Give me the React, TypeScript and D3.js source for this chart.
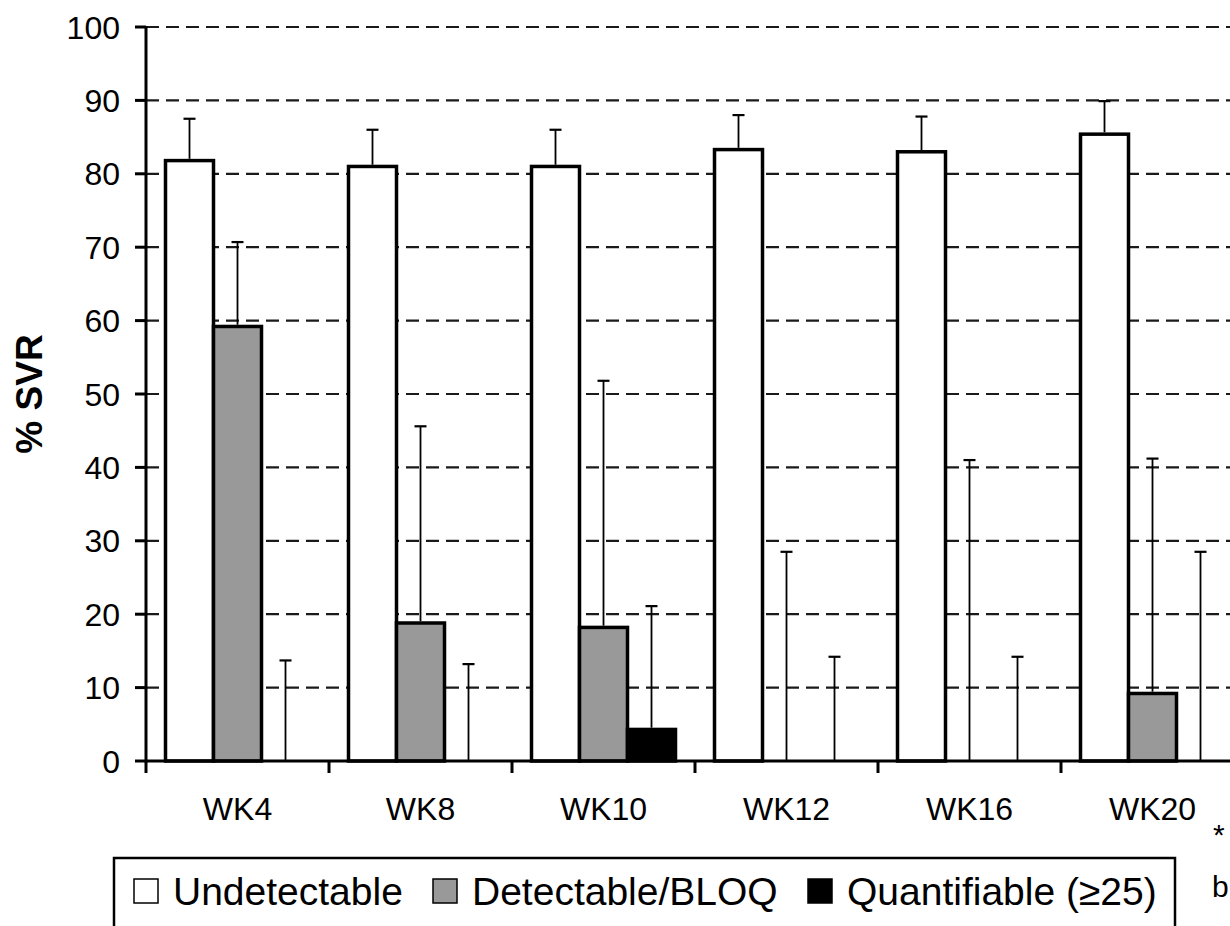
import React from 'react';
import * as d3 from 'd3';

// values (% SVR)
const categories = ['WK4', 'WK8', 'WK10', 'WK12', 'WK16', 'WK20'];
const undetectable = [81.8, 81.0, 81.0, 83.3, 83.0, 85.4];
const undetectableErr = [87.5, 86.0, 86.0, 88.0, 87.8, 89.9];
const detectable = [59.2, 18.8, 18.2, 0, 0, 9.2];
const detectableErr = [70.7, 45.6, 51.8, 28.5, 41.0, 41.2];
const quantifiable = [0, 0, 4.3, 0, 0, 0];
const quantifiableErr = [13.7, 13.2, 21.1, 14.2, 14.2, 28.5];
const yTicks = [0, 10, 20, 30, 40, 50, 60, 70, 80, 90, 100];

const series = [
  { name: 'Undetectable', values: undetectable, err: undetectableErr, fill: '#ffffff' },
  { name: 'Detectable/BLOQ', values: detectable, err: detectableErr, fill: '#999999' },
  { name: 'Quantifiable (≥25)', values: quantifiable, err: quantifiableErr, fill: '#000000' },
];

const W = 1230;
const H = 926;
const font = '"Liberation Sans", Arial, sans-serif';

export default function App() {
  const x0 = 146;
  const step = 183;
  const x = d3.scaleBand<string>()
    .domain(categories)
    .range([x0, x0 + step * categories.length]);
  const barW = 48;
  const inner = d3.scaleBand<string>()
    .domain(series.map(s => s.name))
    .range([0, barW * series.length]);
  const groupOffset = (x.bandwidth() - barW * series.length) / 2;

  const y = d3.scaleLinear().domain([0, 100]).range([761, 27]);

  // legend swatch positions
  const legendX = [134, 433, 808];

  return (
    <svg width={W} height={H} style={{ position: 'absolute', left: 0, top: 0, background: '#fff' }}
      fontFamily={font}>
      <rect x={0} y={0} width={W} height={H} fill="#fff" />

      {/* dashed gridlines */}
      {yTicks.filter(t => t > 0).map(t => (
        <line key={'g' + t} x1={x0} x2={W} y1={y(t)} y2={y(t)}
          stroke="#1a1a1a" strokeWidth={2.2} strokeDasharray="13,7" />
      ))}

      {/* bars */}
      {categories.map((c, ci) => (
        <g key={c}>
          {series.map(s => {
            const bx = (x(c) as number) + groupOffset + (inner(s.name) as number);
            const v = s.values[ci];
            return (
              <rect key={s.name} x={bx} y={y(v)} width={barW} height={y(0) - y(v)}
                fill={s.fill} stroke="#000" strokeWidth={3.5} />
            );
          })}
        </g>
      ))}

      {/* error bars */}
      {categories.map((c, ci) => (
        <g key={'e' + c}>
          {series.map(s => {
            const cx = (x(c) as number) + groupOffset + (inner(s.name) as number) + barW / 2;
            const v = s.values[ci];
            const e = s.err[ci];
            return (
              <g key={s.name} stroke="#000" strokeWidth={1.8}>
                <line x1={cx} x2={cx} y1={y(v) - (v > 0 ? 1.75 : 0)} y2={y(e)} />
                <line x1={cx - 6} x2={cx + 6} y1={y(e)} y2={y(e)} strokeWidth={2.2} />
              </g>
            );
          })}
        </g>
      ))}

      {/* y axis */}
      <line x1={x0} x2={x0} y1={y(100) - 1} y2={y(0) + 1.5} stroke="#000" strokeWidth={3} />
      {yTicks.map(t => (
        <g key={'t' + t}>
          <line x1={135} x2={x0} y1={y(t)} y2={y(t)} stroke="#000" strokeWidth={3} />
          <text x={120} y={y(t)} dy="0.36em" textAnchor="end" fontSize={32} fill="#000">{t}</text>
        </g>
      ))}

      {/* x axis */}
      <line x1={x0} x2={W} y1={y(0)} y2={y(0)} stroke="#000" strokeWidth={3} />
      {categories.map(c => (
        <line key={'xt' + c} x1={x(c) as number} x2={x(c) as number} y1={y(0)} y2={y(0) + 12}
          stroke="#000" strokeWidth={3} />
      ))}
      {categories.map(c => (
        <text key={'xl' + c} x={(x(c) as number) + x.bandwidth() / 2} y={820}
          textAnchor="middle" fontSize={32} fill="#000">{c}</text>
      ))}

      {/* y label */}
      <text transform={`translate(42, ${y(50)}) rotate(-90)`} textAnchor="middle"
        fontSize={37} fontWeight="bold" fill="#000">% SVR</text>

      {/* legend */}
      <rect x={114} y={858} width={1061} height={120} fill="none" stroke="#000" strokeWidth={2.5} />
      {series.map((s, i) => (
        <g key={'l' + s.name}>
          <rect x={legendX[i]} y={879} width={24} height={24} fill={s.fill} stroke="#000" strokeWidth={1.5} />
          <text x={legendX[i] + 39} y={905} fontSize={39} fill="#000">{s.name}</text>
        </g>
      ))}

      {/* footnote marks at the cropped right edge */}
      <text x={1213} y={845} fontSize={30} fill="#000">*</text>
      <text x={1212} y={897} fontSize={30} fill="#000">b</text>
    </svg>
  );
}
